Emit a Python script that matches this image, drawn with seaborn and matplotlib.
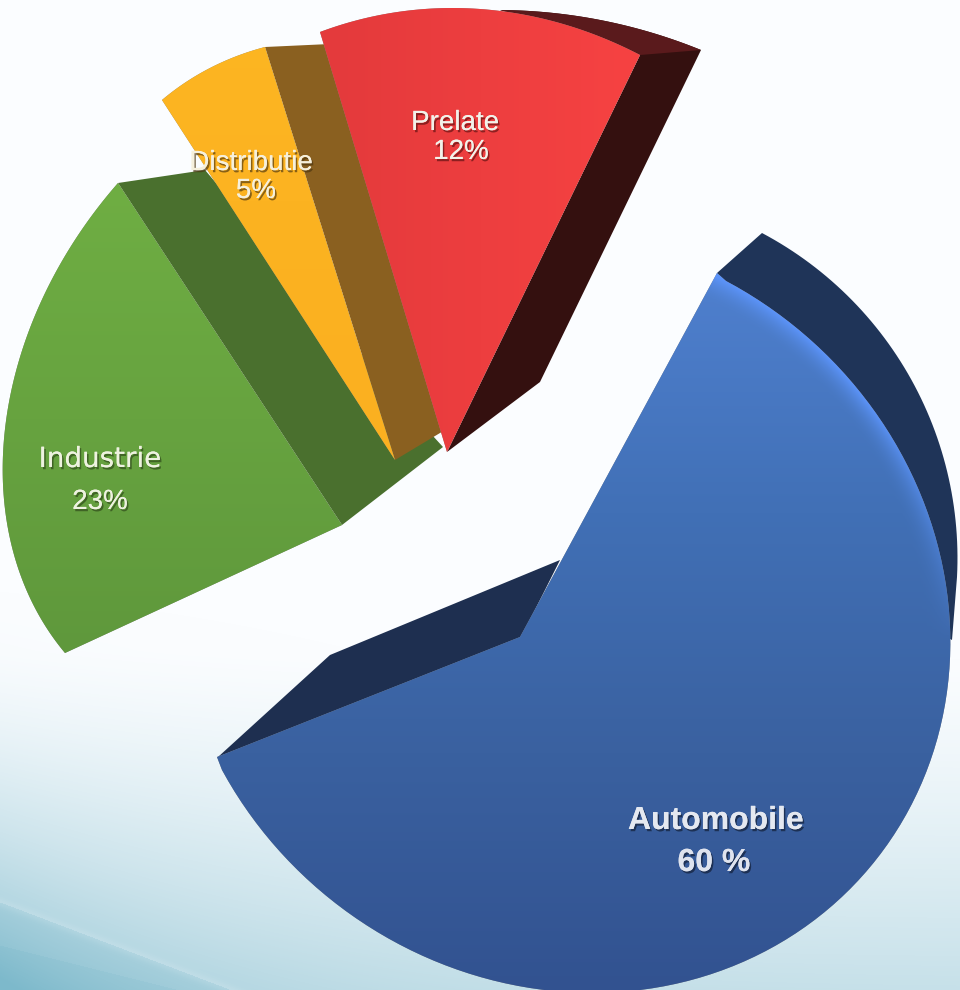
import numpy as np
import matplotlib
matplotlib.use("Agg")
import matplotlib.pyplot as plt
import matplotlib.patheffects as pe
from matplotlib.path import Path
import seaborn as sns

# chart data
categories = ["Automobile", "Industrie", "Distributie", "Prelate"]
shares = [60, 23, 5, 12]
share_labels = ["60 %", "23%", "5%", "12%"]

W, H = 960, 990


def lerp_image(colors, t):
    lut = np.array(sns.blend_palette(colors, 256))
    return lut[(np.clip(t, 0, 1) * 255).astype(int)]


def arc3(p, m, q, n=60):
    # arc through three pixel points, used for the dark side walls
    (ax_, ay), (bx, by), (cx, cy) = p, m, q
    d = 2 * (ax_ * (by - cy) + bx * (cy - ay) + cx * (ay - by))
    ux = ((ax_**2 + ay**2) * (by - cy) + (bx**2 + by**2) * (cy - ay) + (cx**2 + cy**2) * (ay - by)) / d
    uy = ((ax_**2 + ay**2) * (cx - bx) + (bx**2 + by**2) * (ax_ - cx) + (cx**2 + cy**2) * (bx - ax_)) / d
    a0 = np.arctan2(ay - uy, ax_ - ux)
    a1 = np.arctan2(by - uy, bx - ux)
    a2 = np.arctan2(cy - uy, cx - ux)
    a1 = a0 + (a1 - a0 + np.pi) % (2 * np.pi) - np.pi
    a2 = a1 + (a2 - a1 + np.pi) % (2 * np.pi) - np.pi
    r = np.hypot(ax_ - ux, ay - uy)
    t = np.linspace(a0, a2, n)
    return np.c_[ux + r * np.cos(t), uy + r * np.sin(t)]


def draw_face(ax, share, apex, p, m, q, colors, grad, z, glow=False, tips=None):
    # one pie per slice, since every slice has its own centre in the picture
    wedges, _ = ax.pie([share, 100 - share], colors=["#888888", "none"], startangle=0)
    wedge = wedges[0]
    wedges[1].remove()
    t1, t2 = np.radians([wedge.theta1, wedge.theta2])
    tm = (t1 + t2) / 2
    src = np.array([[np.cos(a), np.sin(a), 1] for a in (t1, tm, t2)])
    M = np.linalg.solve(src, np.array([p, m, q], dtype=float)).T
    ts = np.linspace(t1, t2, 120)
    rim = (M @ np.c_[np.cos(ts), np.sin(ts), np.ones_like(ts)].T).T
    if tips is not None:
        rim = np.vstack([tips[0], rim, tips[1]])
    poly = np.vstack([apex, rim, apex])
    wedge._path = Path(poly, closed=True)
    wedge.set_linewidth(0)
    wedge.set_zorder(z)

    # gradient fill clipped by the wedge
    yy, xx = np.mgrid[0:H, 0:W]
    t = grad[0] * xx + grad[1] * yy + grad[2]
    rgb = lerp_image(colors, t)
    if glow:
        Minv = np.linalg.inv(np.vstack([M, [0, 0, 1]]))
        ux = Minv[0, 0] * xx + Minv[0, 1] * yy + Minv[0, 2]
        uy = Minv[1, 0] * xx + Minv[1, 1] * yy + Minv[1, 2]
        rho = np.hypot(ux, uy)
        k = np.clip((rho - 0.93) / 0.07, 0, 1) ** 2 * np.clip((640 - yy) / 240, 0, 1)
        rgb = rgb * (1 - k[..., None]) + np.array([0.36, 0.58, 0.98]) * k[..., None]
    im = ax.imshow(rgb, extent=(0, W, H, 0), origin="upper", zorder=z + 0.1, aspect="auto")
    im.set_clip_path(wedge)


sns.set_theme(style="white")
plt.rcParams["font.family"] = ["Liberation Sans", "DejaVu Sans"]

fig = plt.figure(figsize=(W / 100, H / 100), dpi=100)
ax = fig.add_axes([0, 0, 1, 1])

# slide background
yy, xx = np.mgrid[0:H, 0:W]
vert = np.clip((yy - 650) / 340, 0, 1) ** 1.3
side = np.clip((yy - 550) / 440, 0, 1) ** 2 * np.exp(-xx / 200)
s = 0.42 * vert + 0.45 * side
d = yy - (902 + 0.38 * xx)
s = s + 0.12 * (d > 0) - 0.08 * np.exp(-((d / 5) ** 2)) * (xx < 260)
d2 = yy - (945 + 0.25 * xx)
s = s + 0.05 * (d2 > 0) * (xx < 240)
ax.imshow(lerp_image(["#fbfdff", "#7db9cb"], s), extent=(0, W, H, 0), origin="upper", zorder=0, aspect="auto")

# Automobile
ax.fill(*np.array([(218, 757), (330, 655), (560, 560), (520, 640)]).T, color="#1e2f50", lw=0, zorder=1)
outer = arc3((762, 233), (893, 350), (957, 577))
ax.fill(*np.vstack([(717, 273), outer, (952, 640), (700, 500)]).T, color="#1f3458", lw=0, zorder=1)
draw_face(ax, shares[0], (520, 637), (726, 281), (846, 893), (222, 770),
          ["#4f80cf", "#4170b6", "#3a61a0", "#325290"], (0, 1 / 720, -270 / 720), 2, glow=True,
          tips=[(717, 273), (217, 757)])

# Industrie
ax.fill(*np.array([(118, 183), (205, 170), (400, 400), (443, 447), (342, 525)]).T, color="#4a702e", lw=0, zorder=3)
draw_face(ax, shares[1], (342, 525), (118, 183), (5, 429), (65, 653),
          ["#6fae43", "#5f983c"], (0, 1 / 470, -183 / 470), 4)

# Distributie
ax.fill(*np.array([(265, 47), (330, 44), (445, 430), (395, 460)]).T, color="#8a6020", lw=0, zorder=5)
draw_face(ax, shares[2], (395, 460), (162, 100), (210, 68), (265, 47),
          ["#fdb622", "#fbb020"], (0, 1 / 400, 0), 6)

# Prelate
wall = arc3((500, 10), (610, 22), (701, 50))
ax.fill(*np.vstack([wall, (540, 382), (447, 452), (640, 55)]).T, color="#34100f", lw=0, zorder=7)
ax.fill(*np.vstack([wall, (640, 55)]).T, color="#5a1a1c", lw=0, zorder=7)
draw_face(ax, shares[3], (447, 452), (320, 32), (480, 9), (640, 55),
          ["#e43a3c", "#f64242"], (1 / 300, 0, -330 / 300), 8)


def label(x, y, txt, size, family="Liberation Sans", weight="normal", color="#f2f2ea", shadow="#222222"):
    ax.text(x, y, txt, fontsize=size, family=family, weight=weight, color=color,
            ha="center", va="center", zorder=12,
            path_effects=[pe.withSimplePatchShadow(offset=(1.2, -1.6), shadow_rgbFace=shadow, alpha=0.65), pe.Normal()])


label(716, 821, categories[0], 23, weight="bold", color="#e4e8f0", shadow="#101a30")
label(714, 863, share_labels[0], 23, weight="bold", color="#dfe3ee", shadow="#101a30")
label(100, 459, categories[1], 20, family="DejaVu Sans", color="#eef2e0", shadow="#2c4418")
label(100, 502, share_labels[1], 20, color="#eef2e0", shadow="#2c4418")
label(251, 163, categories[2], 20, color="#f6f0dc", shadow="#4a3410")
label(256, 191, share_labels[2], 20, color="#f6f0dc", shadow="#4a3410")
label(455, 123, categories[3], 20, shadow="#5a1010")
label(461, 152, share_labels[3], 20, shadow="#5a1010")

ax.set_xlim(0, W)
ax.set_ylim(H, 0)
ax.set_aspect("auto")
ax.axis("off")

fig.savefig("out.png", dpi=100)
